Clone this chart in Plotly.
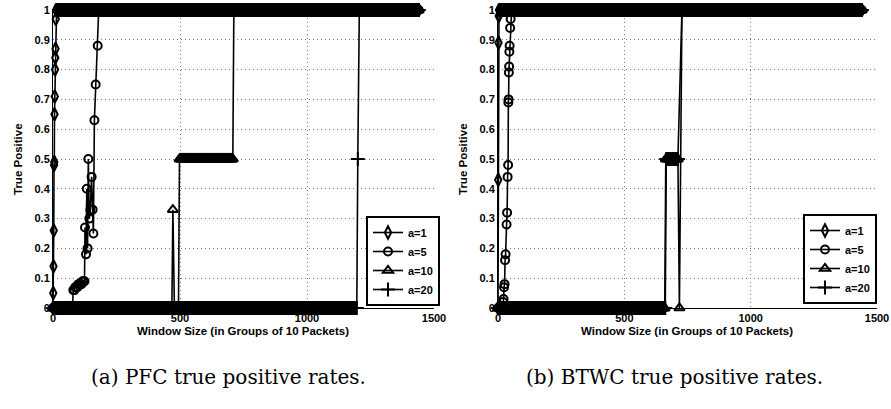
import numpy as np
import plotly.graph_objects as go

W, H = 891, 409
STEP = 2
X_END = 1440

# ---------------- data ----------------
series_names = ["a=1", "a=5", "a=10", "a=20"]
y_ticks = [0, 0.1, 0.2, 0.3, 0.4, 0.5, 0.6, 0.7, 0.8, 0.9, 1]
y_tick_labels = ["0", "0.1", "0.2", "0.3", "0.4", "0.5", "0.6", "0.7", "0.8", "0.9", "1"]
x_ticks = [0, 500, 1000, 1500]
x_tick_labels = ["0", "500", "1000", "1500"]

# PFC (left panel): flat runs (x_start, x_end, level) + individual points
pfc_a1_flat = [(14, X_END, 1.0)]
pfc_a1_x = [0, 1, 2, 3, 4, 5, 6, 7, 8, 9, 10, 11, 12]
pfc_a1_y = [0, 0.05, 0.14, 0.26, 0.48, 0.49, 0.65, 0.71, 0.80, 0.84, 0.87, 0.97, 1.0]

pfc_a5_flat = [(0, 76, 0.0), (180, X_END, 1.0)]
pfc_a5_x = [80, 84, 88, 92, 96, 100, 104, 108, 112, 116, 120, 124, 126, 130, 133, 136,
            139, 143, 147, 152, 156, 159, 163, 168, 176]
pfc_a5_y = [0.06, 0.06, 0.07, 0.07, 0.07, 0.08, 0.08, 0.08, 0.08, 0.09, 0.09, 0.09, 0.27,
            0.18, 0.40, 0.20, 0.50, 0.30, 0.33, 0.44, 0.33, 0.25, 0.63, 0.75, 0.88]

pfc_a10_flat = [(0, 468, 0.0), (476, 494, 0.0), (498, 708, 0.5), (712, X_END, 1.0)]
pfc_a10_x = [472]
pfc_a10_y = [0.33]

pfc_a20_flat = [(0, 1196, 0.0), (1204, X_END, 1.0)]
pfc_a20_x = [1200]
pfc_a20_y = [0.5]

# BTWC (right panel)
btwc_a1_flat = [(6, X_END, 1.0)]
btwc_a1_x = [0, 1, 2, 3, 4]
btwc_a1_y = [0, 0.43, 0.89, 0.98, 1.0]

btwc_a5_flat = [(0, 16, 0.0), (54, X_END, 1.0)]
btwc_a5_x = [20, 22, 24, 26, 28, 30, 34, 36, 38, 40, 41, 42, 43, 44, 45, 46, 48, 50, 52]
btwc_a5_y = [0.02, 0.03, 0.07, 0.08, 0.16, 0.18, 0.28, 0.32, 0.44, 0.48, 0.69, 0.70,
             0.79, 0.81, 0.86, 0.88, 0.94, 0.97, 1.0]

btwc_a10_flat = [(0, 660, 0.0), (664, 712, 0.5), (726, X_END, 1.0)]
btwc_a10_x = [718]
btwc_a10_y = [0.0]

btwc_a20_flat = [(0, 662, 0.0), (666, 712, 0.5), (728, X_END, 1.0)]
btwc_a20_x = []
btwc_a20_y = []

# ---------------- helpers ----------------
def build(flats, px, py):
    xs, ys = [], []
    for a, b, v in flats:
        xx = list(range(a, b + 1, STEP))
        xs.extend(xx)
        ys.extend([v] * len(xx))
    xs.extend(px)
    ys.extend(py)
    order = np.argsort(np.array(xs, dtype=float), kind="stable")
    return np.array(xs, dtype=float)[order], np.array(ys, dtype=float)[order]

symbols = ["diamond-tall-open", "circle-open", "triangle-up-open", "cross-thin-open"]
msizes = [9, 8, 9, 10]

panels = [
    ("x", "y", "legend", [(pfc_a1_flat, pfc_a1_x, pfc_a1_y), (pfc_a5_flat, pfc_a5_x, pfc_a5_y),
                          (pfc_a10_flat, pfc_a10_x, pfc_a10_y), (pfc_a20_flat, pfc_a20_x, pfc_a20_y)]),
    ("x2", "y2", "legend2", [(btwc_a1_flat, btwc_a1_x, btwc_a1_y), (btwc_a5_flat, btwc_a5_x, btwc_a5_y),
                             (btwc_a10_flat, btwc_a10_x, btwc_a10_y), (btwc_a20_flat, btwc_a20_x, btwc_a20_y)]),
]

fig = go.Figure()
for xa, ya, lg, sers in panels:
    for i, (fl, px, py) in enumerate(sers):
        x, y = build(fl, px, py)
        fig.add_trace(go.Scatter(
            x=x, y=y, mode="lines+markers", name=series_names[i],
            xaxis=xa, yaxis=ya, legend=lg, cliponaxis=False, hoverinfo="skip",
            line=dict(color="black", width=1.6),
            marker=dict(symbol=symbols[i], size=msizes[i], color="black",
                        line=dict(color="black", width=2)),
        ))

SANS = "Liberation Sans, Arial, sans-serif"
tickfont = dict(family=SANS, size=11, color="black", weight="bold")
titlefont = dict(family=SANS, size=11.5, color="black", weight="bold")

def xaxis(dom, anchor):
    return dict(domain=dom, range=[0, 1500], anchor=anchor, automargin=False,
                tickvals=x_ticks, ticktext=x_tick_labels,
                showgrid=True, gridcolor="#777", griddash="1px,3px", gridwidth=1,
                showline=True, linecolor="black", linewidth=1, mirror=False,
                zeroline=False, ticks="", tickfont=tickfont, fixedrange=True)

def yaxis(anchor):
    return dict(domain=[(H - 308) / H, (H - 10) / H], range=[0, 1], anchor=anchor,
                automargin=False, tickvals=y_ticks, ticktext=y_tick_labels,
                showgrid=True, gridcolor="#777", griddash="1px,3px", gridwidth=1,
                showline=True, linecolor="black", linewidth=1, mirror=False,
                zeroline=False, ticks="", tickfont=tickfont, fixedrange=True)

legstyle = dict(bgcolor="white", bordercolor="black", borderwidth=2,
                font=dict(family=SANS, size=11, color="black", weight="bold"),
                xanchor="right", yanchor="bottom", tracegroupgap=0, itemsizing="trace")

fig.update_layout(
    width=W, height=H, autosize=False,
    margin=dict(l=0, r=0, t=0, b=0, autoexpand=False),
    paper_bgcolor="white", plot_bgcolor="white",
    xaxis=xaxis([53 / W, 434 / W], "y"),
    yaxis=yaxis("x"),
    xaxis2=xaxis([498 / W, 877 / W], "y2"),
    yaxis2=yaxis("x2"),
    legend=dict(legstyle, x=440 / W, y=(H - 306) / H),
    legend2=dict(legstyle, x=877 / W, y=(H - 304) / H),
    showlegend=True,
)

ann = []
for cx, ylx in [(243, 18), (687, 463)]:
    ann.append(dict(text="Window Size (in Groups of 10 Packets)", x=cx / W, y=(H - 331) / H,
                    xref="paper", yref="paper", showarrow=False, font=titlefont,
                    xanchor="center", yanchor="middle"))
    ann.append(dict(text="True Positive", x=ylx / W, y=(H - 159) / H, textangle=-90,
                    xref="paper", yref="paper", showarrow=False, font=titlefont,
                    xanchor="center", yanchor="middle"))
capfont = dict(family="DejaVu Serif, Liberation Serif, serif", size=20, color="black")
ann.append(dict(text="(a) PFC true positive rates.", x=228 / W, y=(H - 377) / H, xref="paper",
                yref="paper", showarrow=False, font=capfont, xanchor="center", yanchor="middle"))
ann.append(dict(text="(b) BTWC true positive rates.", x=674 / W, y=(H - 377) / H, xref="paper",
                yref="paper", showarrow=False, font=capfont, xanchor="center", yanchor="middle"))
fig.update_layout(annotations=ann)

fig.write_html("out.html", config={"displayModeBar": False, "staticPlot": True},
               post_script="document.body.style.margin='0';document.body.style.padding='0';")
